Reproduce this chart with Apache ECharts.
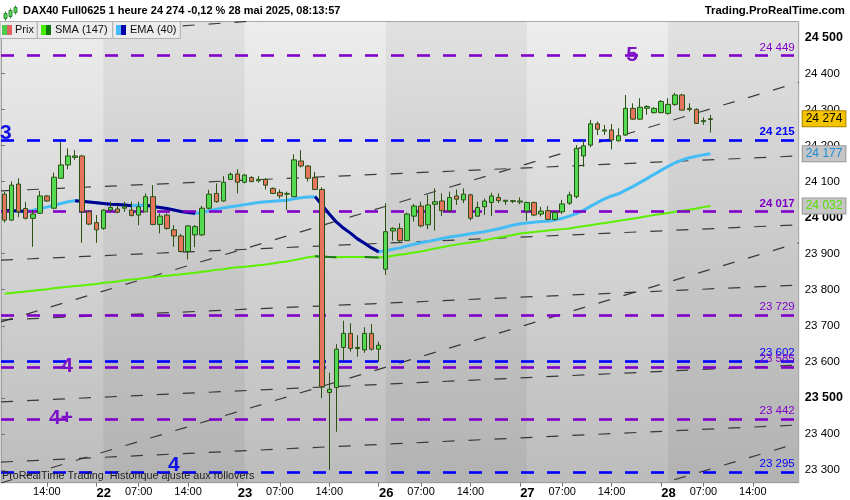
<!DOCTYPE html>
<html><head><meta charset="utf-8">
<script src="https://cdn.jsdelivr.net/npm/echarts@6/dist/echarts.min.js"></script>
<style>html,body{margin:0;padding:0;background:#fff}#c{width:850px;height:500px}</style>
</head><body><div id="c"></div>
<script>
// ---------- DATA ----------
const sessionDays = ['21', '22', '23', '26', '27', '28'];
const sessionFirstHour = [8, 1, 1, 1, 1, 1];
const sessionLastHour = 20;

const open = [24065,23993,24093,24025,23998,24012,24060,24026,24109,24146,24167,24171,24016,23986,23970,24021,24024,24026,24021,24007,
24016,24058,23981,24007,23966,23949,23906,23952,23952,24026,24067,24046,24106,24121,24098,24111,24102,24106,24081,24070,
24065,24058,24157,24143,24111,24078,23515,23529,23640,23679,23637,23633,23679,23635,23857,23963,23970,23936,24004,24032,
23980,24037,24046,24019,24060,24049,24063,24004,24030,24042,24056,24045,24045,24043,24018,24042,24010,24019,23995,24016,
24040,24058,24171,24201,24260,24240,24243,24213,24229,24303,24273,24303,24291,24291,24289,24314,24340,24303,24300,24266,24272];
const high = [24072,24100,24109,24044,24021,24074,24063,24125,24210,24192,24187,24174,24021,24007,24023,24044,24035,24044,24044,24044,
24067,24090,24012,24012,23979,23955,23979,23979,24032,24077,24095,24115,24125,24134,24121,24115,24115,24109,24084,24078,
24072,24176,24187,24146,24127,24084,23570,23649,23714,23707,23674,23696,23705,23656,24040,23973,23984,24014,24038,24044,
24063,24081,24067,24072,24078,24081,24066,24044,24053,24069,24067,24049,24049,24056,24044,24044,24030,24032,24019,24049,
24072,24201,24215,24271,24266,24257,24260,24248,24340,24317,24331,24312,24306,24326,24331,24346,24343,24317,24303,24278,24285];
const low = [23986,23991,24001,23995,23919,24010,24044,24023,24109,24134,24160,23930,23979,23930,23966,24016,24012,24016,24003,23979,
24016,23979,23956,23966,23919,23903,23884,23918,23949,24023,24041,24044,24104,24067,24095,24098,24097,24078,24065,24053,
24021,24058,24139,24100,24077,23499,23300,23406,23603,23628,23614,23625,23631,23600,23841,23936,23933,23936,23989,23973,
23968,23964,24004,24016,24035,24040,23992,24003,24007,24004,24040,24035,24040,24037,23991,24004,24003,23993,23992,24010,
24035,24053,24141,24195,24229,24229,24189,24211,24227,24271,24271,24285,24289,24289,24285,24310,24297,24294,24260,24257,24236];
const close = [23993,24090,24016,23998,24010,24060,24046,24112,24146,24171,24171,24016,23982,23966,24021,24028,24015,24030,24006,24030,
24058,23981,24004,23970,23949,23906,23977,23975,24026,24065,24044,24098,24120,24098,24118,24100,24106,24090,24067,24060,
24067,24160,24143,24109,24078,23531,23524,23635,23679,23637,23640,23679,23635,23646,23961,23970,23936,24010,24032,23977,
24035,24044,24019,24056,24051,24065,23998,24028,24046,24060,24047,24048,24047,24046,24042,24007,24018,23995,24014,24038,
24063,24192,24199,24260,24245,24243,24215,24227,24303,24273,24306,24308,24303,24322,24314,24340,24298,24300,24261,24269,24274];

const ema40 = [24020,24019,24018,24017,24020,24025,24029,24034,24039,24044,24047,24045,24043,24041,24039,24037,24036,24035,24033,24034,
24035,24031,24028,24025,24021,24017,24014,24012,24014,24019,24023,24027,24030,24033,24036,24039,24042,24044,24045,24047,
24048,24052,24055,24057,24058,24034,24010,23988,23971,23957,23941,23929,23916,23905,23908,23912,23916,23921,23926,23930,
23934,23938,23942,23946,23949,23952,23955,23958,23961,23965,23969,23974,23979,23983,23985,23987,23989,23990,23993,23998,
24004,24011,24020,24031,24042,24052,24060,24066,24076,24086,24097,24108,24120,24131,24142,24152,24160,24166,24170,24174,24177];
const sma147 = [23789,23791,23793,23795,23797,23799,23801,23804,23806,23808,23810,23812,23814,23816,23819,23821,23823,23826,23828,23830,
23833,23835,23837,23839,23841,23843,23845,23847,23850,23852,23855,23857,23860,23862,23864,23866,23868,23870,23873,23876,
23878,23882,23886,23890,23893,23892,23891,23890,23891,23891,23891,23891,23890,23889,23891,23894,23897,23900,23903,23906,
23910,23914,23918,23922,23925,23928,23931,23934,23937,23941,23945,23948,23952,23956,23958,23960,23962,23964,23966,23968,
23970,23973,23976,23979,23982,23985,23988,23991,23994,23997,24000,24004,24007,24010,24013,24016,24019,24022,24025,24029,24032];

const yTicks = [23300,23400,23500,23600,23700,23800,23900,24000,24100,24200,24300,24400,24500];
const levelValues = [24449, 24215, 24017, 23729, 23602, 23585, 23442, 23295];
const levelKinds  = ['p', 'b', 'p', 'p', 'b', 'p', 'p', 'b'];
const levelBold   = [false, true, true, false, false, false, false, false];

// trend lines: price at left edge (slot 0) and right edge (slot 113)
const trendLeft  = [23882, 23711, 23716, 23489, 23264, 23322, 22721, 24074, 24498];
const trendRight = [23980, 24375, 23813, 23591, 23930, 23425, 23375, 24171, 24647];

const annText  = ['5', '3', '4', '4+', '4'];
const annSlot  = [89.4, 0.7, 9.35, 8.5, 24.5];
const annPrice = [24450, 24235, 23588, 23444, 23314];
const annKind  = ['p', 'b', 'p', 'p', 'b'];

const darkDayBands = [[14.5, 34.5], [54.5, 74.5], [94.5, 113]];

// ---------- BUILD ----------
const FONT = '"Liberation Sans", Arial, sans-serif';
const PURPLE = '#8000c8', BLUE = '#0000ff';
const pad2 = n => (n < 10 ? '0' : '') + n;
const categories = [];
sessionDays.forEach((d, k) => {
  for (let h = sessionFirstHour[k]; h <= sessionLastHour; h++) categories.push(d + ' ' + pad2(h) + ':00');
});
const fmt = v => String(Math.round(v)).replace(/\B(?=(\d{3})+(?!\d))/g, ' ');
const isLabel = (idx) => {
  const c = categories[idx]; if (!c) return false;
  const h = c.split(' ')[1];
  return h === '07:00' || h === '14:00' || (h === '01:00');
};
const candleData = open.map((o, i) => [o, close[i], low[i], high[i]]);
function downOnly(vals) {
  const out = vals.map(() => null);
  for (let i = 1; i < vals.length; i++) if (vals[i] < vals[i - 1]) { out[i - 1] = vals[i - 1]; out[i] = vals[i]; }
  return out;
}
const yMin = 23264.8, yMax = 24543.8;

const series = [];
// day bands
series.push({
  type: 'line', xAxisIndex: 1, data: [], z: 1, silent: true,
  markArea: { silent: true, itemStyle: { color: 'rgba(0,0,0,0.05)' },
    data: darkDayBands.map(b => [{ xAxis: b[0] }, { xAxis: b[1] }]) }
});
// trend lines
trendLeft.forEach((p, k) => {
  series.push({
    type: 'line', xAxisIndex: 1, z: 2, silent: true, symbol: 'none', clip: true,
    data: [[0, p], [113, trendRight[k]]],
    lineStyle: { color: '#2a2a2a', width: 1.2, type: [12, 14], opacity: 0.9 }
  });
});
// horizontal levels
series.push({
  type: 'line', data: [], z: 3, silent: true,
  markLine: {
    silent: true, symbol: 'none', animation: false,
    data: levelValues.map((v, k) => {
      const col = levelKinds[k] === 'b' ? BLUE : PURPLE;
      return {
        yAxis: v,
        lineStyle: { color: col, width: 2.6, type: [13, 13] },
        label: { show: true, position: 'insideEndTop', distance: [4, 2], formatter: fmt(v),
          color: col, fontSize: 11.5, fontWeight: levelBold[k] ? 'bold' : 'normal', fontFamily: FONT }
      };
    })
  }
});
// SMA
series.push({ type: 'line', data: sma147, symbol: 'none', z: 4, silent: true, lineStyle: { color: '#5cf000', width: 2 } });
series.push({ type: 'line', data: downOnly(sma147), symbol: 'none', z: 4, silent: true, connectNulls: false, lineStyle: { color: '#1f7a1f', width: 2 } });
// EMA
series.push({ type: 'line', data: ema40, symbol: 'none', z: 4, silent: true, lineStyle: { color: '#44bdf6', width: 3 } });
series.push({ type: 'line', data: downOnly(ema40), symbol: 'none', z: 4, silent: true, connectNulls: false, lineStyle: { color: '#000090', width: 3 } });
// candles
series.push({
  type: 'candlestick', data: candleData, z: 5, barWidth: 5, silent: true,
  itemStyle: { color: '#52da52', color0: '#e8735f', borderColor: '#2a5212', borderColor0: '#2a5212', borderWidth: 1 }
});
// annotations
series.push({
  type: 'scatter', xAxisIndex: 1, z: 6, silent: true, symbolSize: 0,
  itemStyle: { opacity: 1 },
  data: annText.map((t, k) => ({
    value: [annSlot[k], annPrice[k]],
    itemStyle: { opacity: 1 },
    label: { show: true, position: 'inside', formatter: t, fontSize: 21, fontWeight: 'bold', fontFamily: FONT,
      opacity: 1, color: annKind[k] === 'b' ? '#1010e8' : '#7a10c8' }
  }))
});
// price tags
const last = close.length - 1;
const tagDefs = [
  { v: close[last], bg: '#f5c400', border: '#a88400', color: '#000' },
  { v: ema40[last], bg: '#c6c6c6', border: '#989898', color: '#1b8dd4' },
  { v: sma147[last], bg: '#c6c6c6', border: '#989898', color: '#55e000' }
];
series.push({
  type: 'line', data: [], z: 7, silent: true,
  markLine: {
    silent: true, symbol: 'none', animation: false,
    data: tagDefs.map(t => ({
      yAxis: t.v, lineStyle: { color: 'rgba(0,0,0,0)', width: 0 },
      label: { show: true, position: 'end', distance: 4, formatter: fmt(t.v), color: t.color,
        backgroundColor: t.bg, borderColor: t.border, borderWidth: 1, padding: [2, 3, 1, 3],
        fontSize: 12, fontFamily: FONT, opacity: 1 }
    }))
  }
});

const option = {
  animation: false,
  backgroundColor: '#ffffff',
  textStyle: { fontFamily: FONT },
  grid: {
    left: 1, right: 51.3, top: 21.5, bottom: 17.3, show: true,
    borderColor: '#a8a8a8', borderWidth: 1,
    backgroundColor: { type: 'linear', x: 0, y: 0, x2: 0, y2: 1,
      colorStops: [{ offset: 0, color: '#ededed' }, { offset: 1, color: '#bcbcbc' }] }
  },
  xAxis: [{
    type: 'category', data: categories, boundaryGap: true,
    axisLine: { show: true, lineStyle: { color: '#a0a0a0' } },
    axisTick: { show: true, alignWithLabel: true, length: 4, interval: (i) => isLabel(i), lineStyle: { color: '#777' } },
    axisLabel: {
      interval: (i) => isLabel(i), margin: 4, color: '#000', fontSize: 11, fontFamily: FONT,
      formatter: (val) => {
        const [d, h] = val.split(' ');
        if (h === '01:00') return '{pad|}{d|' + d + '}';
        return '{h|' + h + '}';
      },
      rich: {
        pad: { width: 15 },
        d: { fontSize: 13, fontWeight: 'bold', color: '#000', fontFamily: FONT },
        h: { fontSize: 11, color: '#000', fontFamily: FONT }
      }
    },
    splitLine: { show: false }
  }, {
    type: 'value', min: 0, max: 113, show: false
  }],
  yAxis: {
    type: 'value', position: 'right', min: yMin, max: yMax,
    axisLine: { show: true, lineStyle: { color: '#a0a0a0' } },
    axisTick: { show: true, length: 4, customValues: yTicks, lineStyle: { color: '#777' } },
    axisLabel: {
      customValues: yTicks, margin: 6, color: '#000', fontFamily: FONT,
      formatter: (v) => (v % 500 === 0 ? '{b|' + fmt(v) + '}' : '{n|' + fmt(v) + '}'),
      rich: {
        b: { fontSize: 12.5, fontWeight: 'bold', color: '#000', fontFamily: FONT },
        n: { fontSize: 11.5, color: '#000', fontFamily: FONT }
      }
    },
    splitLine: { show: false }
  },
  graphic: [
    // candle icon
    { type: 'group', left: 3, top: 3, children: [
      { type: 'line', shape: { x1: 2, y1: 6, x2: 2, y2: 15 }, style: { stroke: '#2f8a2f', lineWidth: 1 } },
      { type: 'rect', shape: { x: 0.5, y: 8, width: 3, height: 5 }, style: { fill: '#5ad35a', stroke: '#2f8a2f', lineWidth: 1 } },
      { type: 'line', shape: { x1: 7, y1: 3, x2: 7, y2: 13 }, style: { stroke: '#2f8a2f', lineWidth: 1 } },
      { type: 'rect', shape: { x: 5.5, y: 5, width: 3, height: 6 }, style: { fill: '#5ad35a', stroke: '#2f8a2f', lineWidth: 1 } },
      { type: 'line', shape: { x1: 12, y1: 0, x2: 12, y2: 9 }, style: { stroke: '#2f8a2f', lineWidth: 1 } },
      { type: 'rect', shape: { x: 10.5, y: 2, width: 3, height: 5 }, style: { fill: '#5ad35a', stroke: '#2f8a2f', lineWidth: 1 } }
    ] },
    { type: 'text', left: 23, top: 5, style: { text: 'DAX40 Full0625 1 heure 24 274 -0,12 % 28 mai 2025, 08:13:57',
        font: 'bold 11px ' + FONT, fill: '#000' } },
    { type: 'text', right: 5, top: 5, style: { text: 'Trading.ProRealTime.com', font: 'bold 11.4px ' + FONT, fill: '#000' } },
    // legend boxes
    { type: 'rect', shape: { x: 0, y: 21.5, width: 37.3, height: 17 }, style: { fill: '#ececec', stroke: '#b0b0b0', lineWidth: 1 }, z: 50 },
    { type: 'rect', shape: { x: 37.3, y: 21.5, width: 75.4, height: 17 }, style: { fill: '#ececec', stroke: '#b0b0b0', lineWidth: 1 }, z: 50 },
    { type: 'rect', shape: { x: 112.7, y: 21.5, width: 67.6, height: 17 }, style: { fill: '#ececec', stroke: '#b0b0b0', lineWidth: 1 }, z: 50 },
    { type: 'rect', shape: { x: 2, y: 25, width: 5, height: 10 }, style: { fill: '#4ccc4c' }, z: 51 },
    { type: 'rect', shape: { x: 7, y: 25, width: 5, height: 10 }, style: { fill: '#e06464' }, z: 51 },
    { type: 'text', x: 15, y: 30, style: { text: 'Prix', font: '11px ' + FONT, fill: '#111', textVerticalAlign: 'middle' }, z: 51 },
    { type: 'rect', shape: { x: 41, y: 25, width: 5, height: 10 }, style: { fill: '#44ee00' }, z: 51 },
    { type: 'rect', shape: { x: 46, y: 25, width: 5, height: 10 }, style: { fill: '#0a7a0a' }, z: 51 },
    { type: 'text', x: 55, y: 30, style: { text: 'SMA (147)', font: '11px ' + FONT, fill: '#111', textVerticalAlign: 'middle' }, z: 51 },
    { type: 'rect', shape: { x: 116, y: 25, width: 5, height: 10 }, style: { fill: '#44bbff' }, z: 51 },
    { type: 'rect', shape: { x: 121, y: 25, width: 5, height: 10 }, style: { fill: '#0000a8' }, z: 51 },
    { type: 'text', x: 130, y: 30, style: { text: 'EMA (40)', font: '11px ' + FONT, fill: '#111', textVerticalAlign: 'middle' }, z: 51 },
    // footer text
    { type: 'text', x: 2, y: 476, style: { text: 'ProRealTime Trading  Historique ajusté aux rollovers', font: '10.8px ' + FONT, fill: '#222', textVerticalAlign: 'middle' }, z: 51 }
  ],
  series: series
};
const chart = echarts.init(document.getElementById('c'));
chart.setOption(option);
</script>
</body></html>
